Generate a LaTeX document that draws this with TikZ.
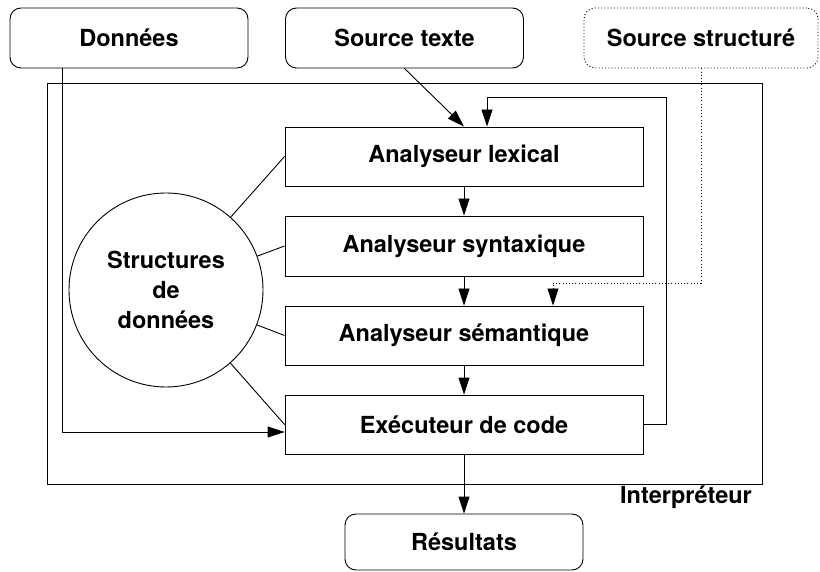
\documentclass[tikz,border=0pt]{standalone}
\usepackage{fontspec}
\setmainfont{TeX Gyre Heros}
\usetikzlibrary{arrows.meta}
\begin{document}
\begin{tikzpicture}[x=1pt,y=-1pt,
  every node/.style={font=\fontsize{23.5}{30}\selectfont\bfseries},
  lw/.style={line width=0.9pt},
  rbox/.style={lw,draw,rounded corners=11pt,minimum width=238pt,minimum height=60pt,inner sep=0pt},
  sbox/.style={lw,draw,minimum width=358pt,minimum height=59pt,inner sep=0pt},
  arr/.style={lw,-{Triangle[length=17pt,width=11pt]}},
  dots/.style={dash pattern=on 1pt off 2.2pt}]
\useasboundingbox (0,0) rectangle (820,572);
\node[rbox] (don) at (129,38) {Données};
\node[rbox] (st) at (404.5,38) {Source texte};
\node[rbox,dots,minimum width=234pt] (ss) at (701,38) {Source structuré};
\draw[lw] (47,83) rectangle (762,484);
\node (interp) at (686,497) {Interpréteur};
\node[sbox] (lex) at (464,156.5) {Analyseur lexical};
\node[sbox,minimum height=60pt] (syn) at (464,246) {Analyseur syntaxique};
\node[sbox] (sem) at (464,335.5) {Analyseur sémantique};
\node[sbox] (exe) at (464,424.5) {Exécuteur de code};
\node[rbox,minimum height=56pt] (res) at (464,542) {Résultats};
\node[lw,draw,circle,minimum size=194pt,inner sep=0pt,align=center] (ds) at (166,290) {Structures\\de\\données};
\draw[arr] (st.south) -- (lex.north);
\draw[arr] (lex) -- (syn);
\draw[arr] (syn) -- (sem);
\draw[arr] (sem) -- (exe);
\draw[arr] (exe) -- (res);
\coordinate (dl) at (62,0);
\draw[arr] (don.south -| dl) |- ([yshift=-7.5pt]exe.west);
\coordinate (fb) at (666,97);
\draw[arr] (exe.east) -| (fb) -| ([xshift=23pt]lex.north);
\coordinate (sd) at (553,283);
\draw[arr,dots] (ss.south) |- (sd) -- (sd |- sem.north);
\draw[lw] (ds) -- (lex.west);
\draw[lw] (ds) -- (syn.west);
\draw[lw] (ds) -- (sem.west);
\draw[lw] (ds) -- (exe.west);
\end{tikzpicture}
\end{document}
